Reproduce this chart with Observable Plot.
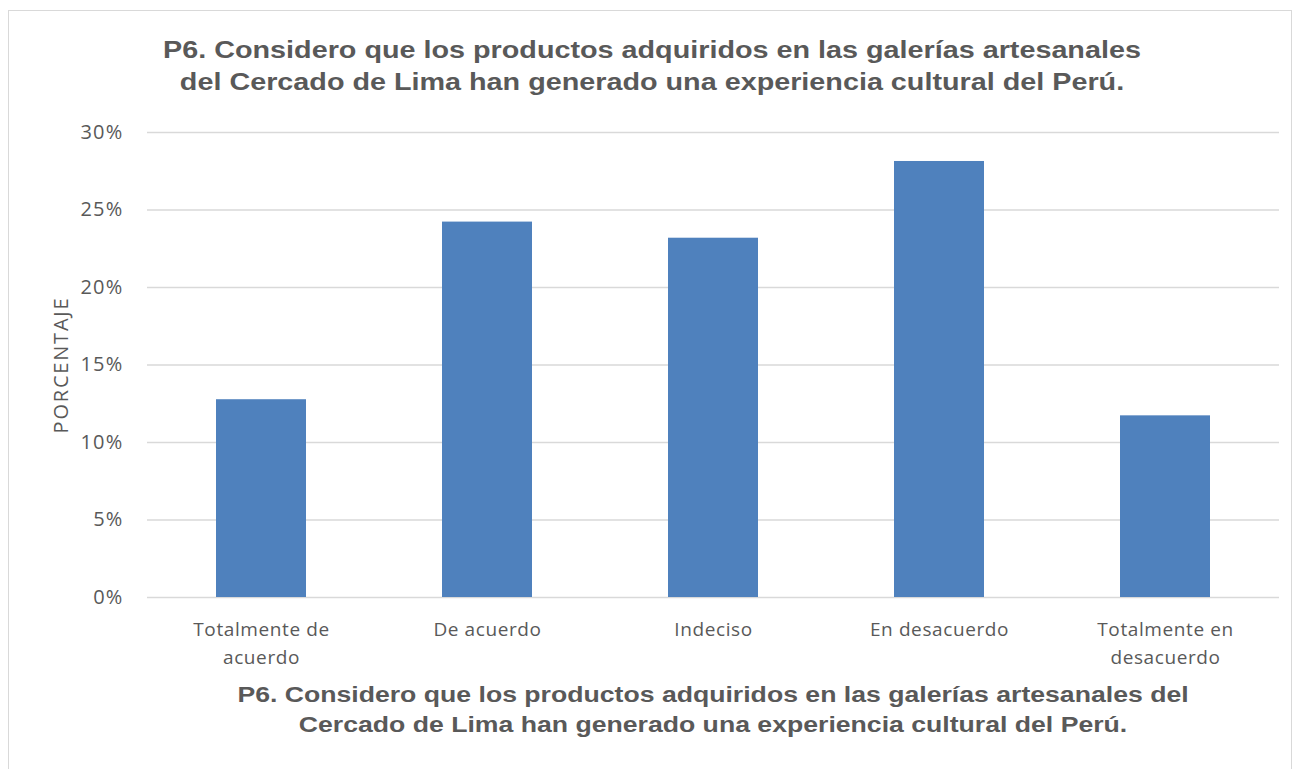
<!DOCTYPE html>
<html>
<head>
<meta charset="utf-8">
<script src="https://cdn.jsdelivr.net/npm/d3@7"></script>
<script src="https://cdn.jsdelivr.net/npm/@observablehq/plot@0.6"></script>
<style>
  html, body { margin: 0; padding: 0; background: #fff; }
  #wrap { position: relative; width: 1296px; height: 769px; overflow: hidden; }
  #frame { position: absolute; left: 8px; top: 10px; width: 1284px; height: 800px; border: 1.5px solid #d9d9d9; box-sizing: border-box; }
  .ttl { position: absolute; width: 1296px; text-align: center; font-family: "Liberation Sans", Arial, sans-serif; font-weight: bold; color: #595959; }
  #title { left: 4px; top: 34px; font-size: 23px; line-height: 32px; transform: scaleX(1.25); transform-origin: 648px 0; }
  #xtitle { left: 65px; top: 680px; font-size: 22px; line-height: 30px; transform: scaleX(1.21); transform-origin: 648px 0; }
  #chart { position: absolute; left: 0; top: 100px; }
  #chart svg text { letter-spacing: 0.6px; }
  #chart svg g.ylab text { letter-spacing: 1.8px; }
  #chart svg g.yax text { letter-spacing: 1.2px; }
</style>
</head>
<body>
<div id="wrap">
  <div id="frame"></div>
  <div class="ttl" id="title">P6. Considero que los productos adquiridos en las galerías artesanales<br>del Cercado de Lima han generado una experiencia cultural del Perú.</div>
  <div id="chart"></div>
  <div class="ttl" id="xtitle">P6. Considero que los productos adquiridos en las galerías artesanales del<br>Cercado de Lima han generado una experiencia cultural del Perú.</div>
</div>
<script>
const categories = ["Totalmente de acuerdo", "De acuerdo", "Indeciso", "En desacuerdo", "Totalmente en desacuerdo"];
const tickLabels = ["Totalmente de\nacuerdo", "De acuerdo", "Indeciso", "En desacuerdo", "Totalmente en\ndesacuerdo"];
const values = [0.1276, 0.2422, 0.2318, 0.2813, 0.1172];
const yTicks = [0, 0.05, 0.10, 0.15, 0.20, 0.25, 0.30];
const yLabel = "PORCENTAJE";

const data = categories.map((c, i) => ({category: c, value: values[i]}));
const labelOf = new Map(categories.map((c, i) => [c, tickLabels[i]]));

const chart = Plot.plot({
  width: 1296,
  height: 580,
  marginTop: 32,
  marginBottom: 83,
  marginLeft: 147,
  marginRight: 17,
  style: {fontFamily: "'Open Sans', Lato, sans-serif", fontSize: "19px", color: "#595959", background: "transparent"},
  x: {domain: categories, paddingInner: 0.6, paddingOuter: 0.3, label: null},
  y: {domain: [0, 0.30], label: null},
  marks: [
    Plot.gridY(yTicks, {stroke: "#d9d9d9", strokeOpacity: 1, strokeWidth: 1.5}),
    Plot.barY(data, {x: "category", y: "value", fill: "#4f81bd"}),
    Plot.axisY(yTicks, {tickSize: 0, tickPadding: 24, tickFormat: d3.format(".0%"), fill: "#595959", fontSize: 20, label: null, className: "yax"}),
    Plot.axisX({tickSize: 0, tickPadding: 19, tickFormat: d => labelOf.get(d), fill: "#595959", fontSize: 19, lineHeight: 1.47, label: null}),
    Plot.text([yLabel], {frameAnchor: "left", dx: -86, rotate: -90, textAnchor: "middle", fill: "#595959", fontSize: 20, className: "ylab"})
  ]
});
document.getElementById("chart").appendChild(chart);
</script>
</body>
</html>
